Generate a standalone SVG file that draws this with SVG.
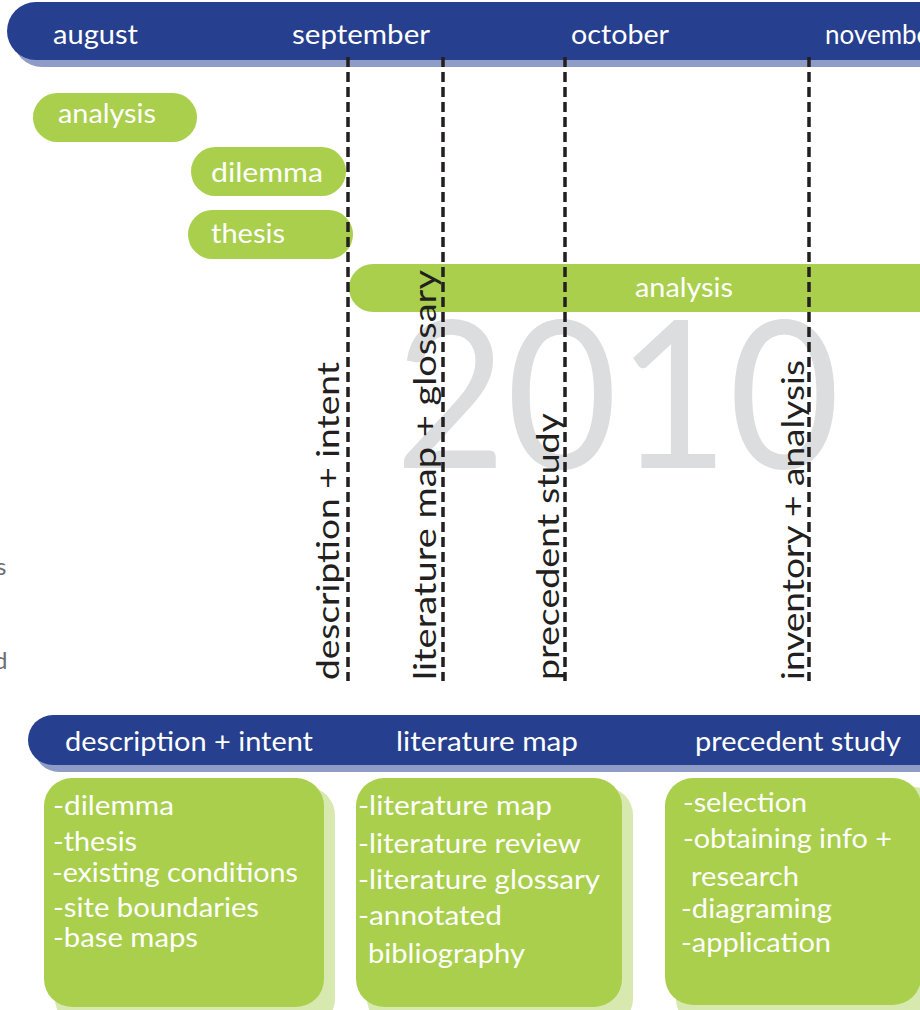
<svg xmlns="http://www.w3.org/2000/svg" width="920" height="1010" viewBox="0 0 920 1010">
  <style>
    .t { font-family: Lato, "Open Sans", "Liberation Sans", sans-serif; }
    .w { fill: #ffffff; }
    .band { fill: #263f8e; }
    .band-sh { fill: #8f9cc8; }
    .pill { fill: #a9cf4d; }
    .card { fill: #a9cf4d; }
    .card-sh { fill: #d7e9ae; }
    .vlab { fill: #231f20; font-size: 31px; }
    .item { font-size: 26px; }
    .guide { stroke: #231f20; stroke-width: 3.5; stroke-dasharray: 10 5; fill: none; }
  </style>

  <rect width="920" height="1010" fill="#ffffff"/>

  <!-- year watermark -->
  <text class="t" x="395" y="468" font-size="205" fill="#dcdddf" textLength="445" lengthAdjust="spacingAndGlyphs">2010</text>

  <!-- cut-off margin labels -->
  <text class="t" x="-4" y="575" font-size="24" fill="#6d6e71">s</text>
  <text class="t" x="-6" y="669" font-size="24" fill="#6d6e71">d</text>

  <!-- month band -->
  <g id="months">
    <rect class="band-sh" x="13" y="9" width="960" height="58" rx="29"/>
    <rect class="band" x="7" y="2" width="960" height="58" rx="29"/>
    <text class="t w" x="53" y="44" font-size="26" textLength="85" lengthAdjust="spacingAndGlyphs">august</text>
    <text class="t w" x="292" y="44" font-size="26" textLength="138" lengthAdjust="spacingAndGlyphs">september</text>
    <text class="t w" x="571" y="44" font-size="26" textLength="98" lengthAdjust="spacingAndGlyphs">october</text>
    <text class="t w" x="825" y="44" font-size="26">november</text>
  </g>

  <!-- task pills -->
  <g id="pill-analysis-1">
    <rect class="pill" x="33" y="93" width="164" height="49" rx="24.5"/>
    <text class="t w" x="58" y="123" font-size="27" textLength="98" lengthAdjust="spacingAndGlyphs">analysis</text>
  </g>
  <g id="pill-dilemma">
    <rect class="pill" x="191" y="147" width="155" height="49" rx="24.5"/>
    <text class="t w" x="211" y="182" font-size="27" textLength="112" lengthAdjust="spacingAndGlyphs">dilemma</text>
  </g>
  <g id="pill-thesis">
    <rect class="pill" x="188" y="210" width="165" height="49" rx="24.5"/>
    <text class="t w" x="211" y="243" font-size="27" textLength="74" lengthAdjust="spacingAndGlyphs">thesis</text>
  </g>
  <g id="pill-analysis-2">
    <rect class="pill" x="349" y="264" width="620" height="48" rx="24"/>
    <text class="t w" x="635" y="297" font-size="27" textLength="98" lengthAdjust="spacingAndGlyphs">analysis</text>
  </g>

  <!-- milestone guides -->
  <g id="guides">
    <line class="guide" x1="348" y1="57" x2="348" y2="681"/>
    <line class="guide" x1="443" y1="57" x2="443" y2="681"/>
    <line class="guide" x1="565" y1="57" x2="565" y2="681"/>
    <line class="guide" x1="809" y1="57" x2="809" y2="681"/>
  </g>

  <!-- milestone labels -->
  <g id="milestone-description">
    <text class="t vlab" transform="translate(339,680) rotate(-90)" textLength="318" lengthAdjust="spacingAndGlyphs">description + intent</text>
  </g>
  <g id="milestone-literature">
    <text class="t vlab" transform="translate(436,680) rotate(-90)" textLength="410" lengthAdjust="spacingAndGlyphs">literature map + glossary</text>
  </g>
  <g id="milestone-precedent">
    <text class="t vlab" transform="translate(559,680) rotate(-90)" textLength="267" lengthAdjust="spacingAndGlyphs">precedent study</text>
  </g>
  <g id="milestone-inventory">
    <text class="t vlab" transform="translate(804,680) rotate(-90)" textLength="320" lengthAdjust="spacingAndGlyphs">inventory + analysis</text>
  </g>

  <!-- phase band -->
  <g id="phases">
    <rect class="band-sh" x="34" y="722" width="960" height="50" rx="25"/>
    <rect class="band" x="28" y="715" width="960" height="50" rx="25"/>
    <text class="t w" x="65" y="751" font-size="26" textLength="248" lengthAdjust="spacingAndGlyphs">description + intent</text>
    <text class="t w" x="396" y="751" font-size="26" textLength="182" lengthAdjust="spacingAndGlyphs">literature map</text>
    <text class="t w" x="695" y="751" font-size="26" textLength="206" lengthAdjust="spacingAndGlyphs">precedent study</text>
  </g>

  <!-- phase cards -->
  <g id="card-description">
    <rect class="card-sh" x="55" y="787" width="280" height="240" rx="28"/>
    <rect class="card" x="44" y="778" width="280" height="229" rx="28"/>
    <g class="t w item">
      <text x="53" y="815" textLength="121" lengthAdjust="spacingAndGlyphs">-dilemma</text>
      <text x="53" y="851" textLength="84" lengthAdjust="spacingAndGlyphs">-thesis</text>
      <text x="52" y="882" textLength="246" lengthAdjust="spacingAndGlyphs">-existing conditions</text>
      <text x="53" y="917" textLength="206" lengthAdjust="spacingAndGlyphs">-site boundaries</text>
      <text x="53" y="947" textLength="145" lengthAdjust="spacingAndGlyphs">-base maps</text>
    </g>
  </g>
  <g id="card-literature">
    <rect class="card-sh" x="367" y="787" width="266" height="240" rx="28"/>
    <rect class="card" x="356" y="778" width="266" height="229" rx="28"/>
    <g class="t w item">
      <text x="358" y="815" textLength="194" lengthAdjust="spacingAndGlyphs">-literature map</text>
      <text x="358" y="853" textLength="223" lengthAdjust="spacingAndGlyphs">-literature review</text>
      <text x="358" y="889" textLength="242" lengthAdjust="spacingAndGlyphs">-literature glossary</text>
      <text x="358" y="925" textLength="144" lengthAdjust="spacingAndGlyphs">-annotated</text>
      <text x="368" y="963" textLength="157" lengthAdjust="spacingAndGlyphs">bibliography</text>
    </g>
  </g>
  <g id="card-precedent">
    <rect class="card-sh" x="676" y="787" width="266" height="240" rx="28"/>
    <rect class="card" x="665" y="778" width="256" height="227" rx="28"/>
    <g class="t w item">
      <text x="683" y="812" textLength="124" lengthAdjust="spacingAndGlyphs">-selection</text>
      <text x="683" y="848" textLength="209" lengthAdjust="spacingAndGlyphs">-obtaining info +</text>
      <text x="691" y="886" textLength="108" lengthAdjust="spacingAndGlyphs">research</text>
      <text x="681" y="918" textLength="151" lengthAdjust="spacingAndGlyphs">-diagraming</text>
      <text x="681" y="952" textLength="150" lengthAdjust="spacingAndGlyphs">-application</text>
    </g>
  </g>
</svg>
